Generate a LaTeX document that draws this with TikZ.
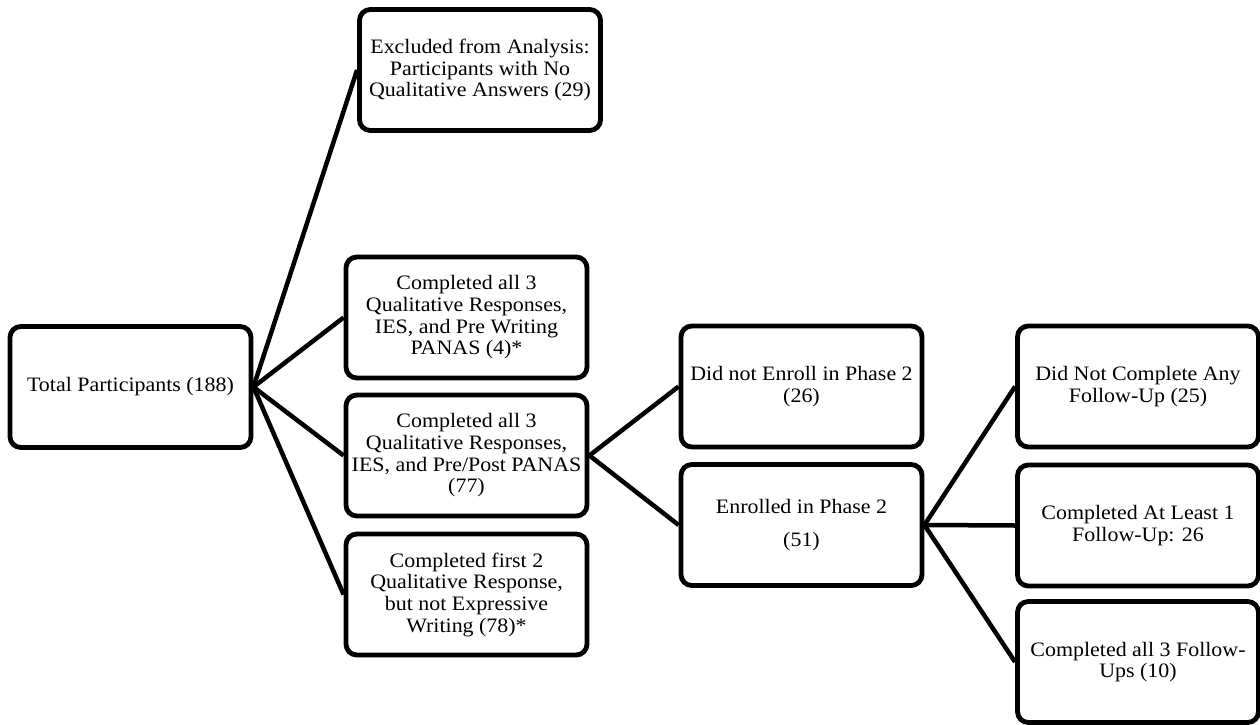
\documentclass[tikz,border=0pt]{standalone}
\usepackage{fontspec}
\setmainfont{Liberation Serif}[FakeStretch=1.07]
\begin{document}
\begin{tikzpicture}[x=0.6pt,y=-0.6pt,
  box/.style={draw, line width=2.9pt, rounded corners=6.5pt, minimum width=144.6pt,
    minimum height=72.6pt, inner sep=0pt, align=center,
    font=\fontsize{12.3}{13}\selectfont},
  link/.style={line width=2.7pt}]
\useasboundingbox (0,0) rectangle (1260,724);
\node[box] (total) at (130.5,387) {Total Participants (188)};
\node[box] (excl) at (480,70) {Excluded from Analysis:\\Participants with No\\Qualitative Answers (29)};
\node[box] (prew) at (466.5,317.5) {Completed all 3\\Qualitative Responses,\\IES, and Pre Writing\\PANAS (4)*};
\node[box] (prep) at (466.5,455.5) {Completed all 3\\Qualitative Responses,\\IES, and Pre/Post PANAS\\(77)};
\node[box] (first) at (466.5,594.5) {Completed first 2\\Qualitative Response,\\but not Expressive\\Writing (78)*};
\node[box] (noenr) at (801.5,386.5) {Did not Enroll in Phase 2\\(26)};
\node[box] (enr) at (801.5,525) {Enrolled in Phase 2\\[7pt](51)};
\node[box] (nofu) at (1138,386.5) {Did Not Complete Any\\Follow-Up (25)};
\node[box] (least) at (1138,525.5) {Completed At Least 1\\Follow-Up: 26};
\node[box] (all3) at (1138,662) {Completed all 3 Follow-\\Ups (10)};
\draw[link] (total.east) -- (excl.west);
\draw[link] (total.east) -- (prew.west);
\draw[link] (total.east) -- (prep.west);
\draw[link] (total.east) -- (first.west);
\draw[link] (prep.east) -- (noenr.west);
\draw[link] (prep.east) -- (enr.west);
\draw[link] (enr.east) -- (nofu.west);
\draw[link] (enr.east) -- (least.west);
\draw[link] (enr.east) -- (all3.west);
\end{tikzpicture}
\end{document}
